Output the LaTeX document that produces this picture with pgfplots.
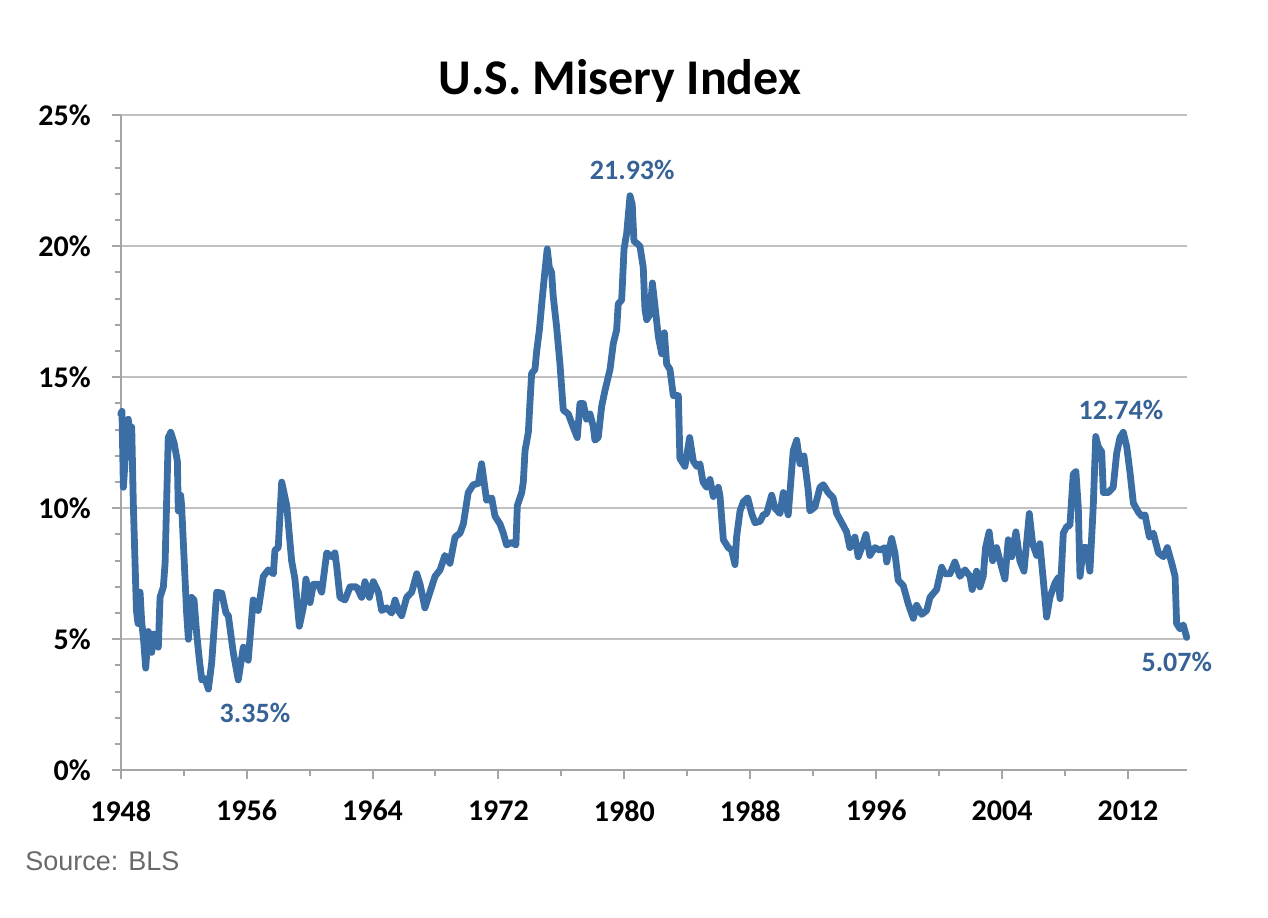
\documentclass[border=0pt]{standalone}
\usepackage{pgfplots}
\pgfplotsset{compat=1.18}
\usepackage{fontspec}
\setmainfont{Carlito}
\newfontfamily\srcfont{Liberation Sans}
\definecolor{lineblue}{RGB}{59,110,165}
\definecolor{lblblue}{RGB}{55,98,150}
\definecolor{gridgray}{RGB}{192,192,192}
\definecolor{axgray}{RGB}{165,165,165}
\definecolor{srcgray}{RGB}{105,105,105}

\pgfplotstableread{
year value
1948.00 13.6
1948.08 13.7
1948.17 10.8
1948.30 12.0
1948.48 13.4
1948.60 12.8
1948.70 13.1
1948.80 10.2
1949.00 6.1
1949.10 5.6
1949.23 6.8
1949.33 5.7
1949.45 5.0
1949.59 3.9
1949.75 5.3
1949.85 4.9
1949.97 4.5
1950.08 5.2
1950.18 4.8
1950.30 4.9
1950.39 4.7
1950.50 6.6
1950.71 7.0
1950.82 7.9
1951.02 12.7
1951.18 12.9
1951.39 12.5
1951.60 11.8
1951.66 9.9
1951.81 10.5
1951.87 10.1
1952.19 6.0
1952.30 5.0
1952.50 6.6
1952.66 6.5
1952.83 5.2
1953.00 4.2
1953.15 3.45
1953.36 3.5
1953.57 3.1
1953.78 4.1
1954.10 6.8
1954.42 6.76
1954.69 6.0
1954.84 5.9
1955.15 4.5
1955.47 3.45
1955.79 4.7
1956.10 4.2
1956.42 6.5
1956.74 6.1
1957.06 7.4
1957.38 7.65
1957.70 7.5
1957.80 8.4
1958.01 8.5
1958.23 11.0
1958.55 10.1
1958.86 8.0
1959.07 7.3
1959.35 5.5
1959.60 6.2
1959.77 7.3
1960.03 6.4
1960.24 7.1
1960.55 7.1
1960.77 6.8
1961.09 8.3
1961.40 8.15
1961.61 8.3
1961.72 7.8
1961.93 6.6
1962.25 6.5
1962.57 7.0
1962.99 7.0
1963.31 6.6
1963.52 7.2
1963.80 6.6
1964.05 7.2
1964.37 6.8
1964.58 6.1
1964.90 6.2
1965.22 6.0
1965.43 6.5
1965.64 6.1
1965.85 5.9
1966.17 6.6
1966.49 6.8
1966.81 7.5
1967.02 7.1
1967.33 6.2
1967.65 6.8
1967.97 7.4
1968.29 7.65
1968.60 8.2
1968.92 7.9
1969.24 8.9
1969.56 9.05
1969.77 9.4
1970.08 10.6
1970.40 10.9
1970.72 10.95
1970.93 11.7
1971.25 10.3
1971.57 10.4
1971.78 9.7
1972.10 9.4
1972.31 9.05
1972.52 8.6
1972.84 8.7
1973.11 8.6
1973.20 10.1
1973.48 10.6
1973.58 11.0
1973.69 12.2
1973.90 12.9
1974.00 14.0
1974.11 15.15
1974.32 15.3
1974.43 16.0
1974.60 16.8
1974.75 17.8
1974.96 19.1
1975.10 19.9
1975.23 19.2
1975.38 19.0
1975.48 18.1
1975.70 16.9
1975.91 15.5
1976.12 13.75
1976.44 13.6
1976.75 13.1
1977.01 12.7
1977.18 14.0
1977.39 14.0
1977.60 13.4
1977.82 13.6
1978.03 13.1
1978.13 12.6
1978.34 12.7
1978.56 13.9
1978.77 14.5
1979.09 15.3
1979.30 16.3
1979.51 16.8
1979.61 17.8
1979.83 17.95
1979.98 19.9
1980.15 20.5
1980.36 21.93
1980.50 21.6
1980.61 20.2
1980.82 20.1
1980.99 20.0
1981.20 19.2
1981.31 17.6
1981.42 17.2
1981.63 17.4
1981.78 18.6
1981.95 17.7
1982.16 16.55
1982.37 15.9
1982.54 16.7
1982.69 15.5
1982.90 15.3
1983.11 14.3
1983.43 14.3
1983.53 11.9
1983.85 11.6
1984.15 12.7
1984.38 11.8
1984.60 11.6
1984.80 11.7
1985.00 11.0
1985.23 10.8
1985.44 11.1
1985.65 10.45
1985.97 10.8
1986.08 10.45
1986.29 8.8
1986.60 8.5
1986.82 8.4
1987.03 7.85
1987.13 8.9
1987.35 9.9
1987.56 10.25
1987.84 10.4
1988.09 9.8
1988.30 9.45
1988.62 9.5
1988.83 9.75
1989.04 9.8
1989.36 10.5
1989.57 10.0
1989.89 9.8
1990.10 10.6
1990.41 9.75
1990.52 10.6
1990.73 12.2
1990.95 12.6
1991.16 11.7
1991.41 12.0
1991.68 10.7
1991.79 9.9
1992.11 10.05
1992.43 10.8
1992.64 10.9
1992.95 10.6
1993.27 10.4
1993.49 9.8
1993.81 9.45
1994.12 9.1
1994.33 8.5
1994.65 8.9
1994.86 8.15
1995.08 8.5
1995.35 9.0
1995.60 8.2
1995.92 8.5
1996.24 8.4
1996.56 8.5
1996.67 7.95
1996.98 8.85
1997.19 8.3
1997.40 7.25
1997.72 7.05
1998.04 6.35
1998.36 5.8
1998.57 6.3
1998.89 5.95
1999.21 6.1
1999.42 6.6
1999.63 6.75
1999.84 6.9
2000.16 7.75
2000.37 7.5
2000.69 7.5
2001.00 7.95
2001.32 7.4
2001.64 7.65
2001.96 7.4
2002.10 6.9
2002.38 7.6
2002.59 7.0
2002.80 7.4
2002.95 8.5
2003.18 9.1
2003.40 8.0
2003.65 8.5
2003.97 7.75
2004.18 7.3
2004.39 8.8
2004.61 8.15
2004.88 9.1
2005.13 8.0
2005.39 7.6
2005.73 9.8
2005.94 8.65
2006.20 8.2
2006.40 8.65
2006.62 7.25
2006.83 5.85
2007.04 6.6
2007.36 7.15
2007.57 7.35
2007.68 6.55
2007.89 9.05
2008.10 9.3
2008.31 9.35
2008.52 11.3
2008.69 11.4
2008.84 10.05
2008.95 7.4
2009.16 8.5
2009.37 8.5
2009.58 7.6
2009.79 10.05
2009.95 12.74
2010.11 12.35
2010.33 12.15
2010.43 10.6
2010.75 10.6
2011.06 10.8
2011.28 12.1
2011.49 12.7
2011.70 12.9
2011.92 12.35
2012.13 11.35
2012.34 10.2
2012.66 9.85
2012.87 9.7
2013.08 9.75
2013.36 8.9
2013.61 9.05
2013.93 8.3
2014.25 8.15
2014.50 8.5
2014.78 7.9
2014.99 7.4
2015.09 5.6
2015.30 5.4
2015.51 5.55
2015.73 5.07
}\misery

\begin{document}
\begin{tikzpicture}
\path[use as bounding box] (0,0) rectangle (634bp,459bp);
\begin{axis}[
  at={(60.35bp,73.85bp)}, anchor=south west,
  width=533.15bp, height=327.5bp, scale only axis,
  xmin=1948, xmax=2015.75, ymin=0, ymax=25,
  xtick={1948,1956,1964,1972,1980,1988,1996,2004,2012},
  xticklabels={1948,1956,1964,1972,1980,1988,1996,2004,2012},
  minor xtick={1952,1960,1968,1976,1984,1992,2000,2008},
  ytick={0,5,10,15,20,25},
  yticklabels={0\%,5\%,10\%,15\%,20\%,25\%},
  minor ytick={1,2,3,4,6,7,8,9,11,12,13,14,16,17,18,19,21,22,23,24},
  ymajorgrids, major grid style={gridgray, line width=1bp},
  axis lines*=left,
  axis line style={axgray, line width=1bp},
  tick align=outside, major tick length=4.5bp, minor tick length=3bp,
  tick style={axgray, line width=1bp},
  ticklabel style={font=\bfseries\fontsize{15bp}{18bp}\selectfont, text=black},
  yticklabel style={xshift=-7bp},
  xticklabel style={yshift=-7bp},
  clip=false,
]
\addplot[lineblue, line width=3.4bp, line join=round, line cap=round] table[x=year, y=value] {\misery};
\begin{scope}[every node/.style={text=lblblue, font=\bfseries\fontsize{14bp}{17bp}\selectfont}]
\node at (axis cs:1980.5,22.91) {21.93\%};
\node at (axis cs:1956.53,2.19) {3.35\%};
\node at (axis cs:2011.55,13.75) {12.74\%};
\node at (axis cs:2015.1,4.13) {5.07\%};
\end{scope}
\end{axis}
\node[anchor=base, font=\bfseries\fontsize{25bp}{30bp}\selectfont] at (310bp,411.5bp) {U.S. Misery Index};
\node[anchor=base west, inner sep=0pt, text=srcgray, font=\srcfont\fontsize{13.5bp}{16bp}\selectfont] at (12.5bp,24bp) {Source: BLS};
\end{tikzpicture}
\end{document}
